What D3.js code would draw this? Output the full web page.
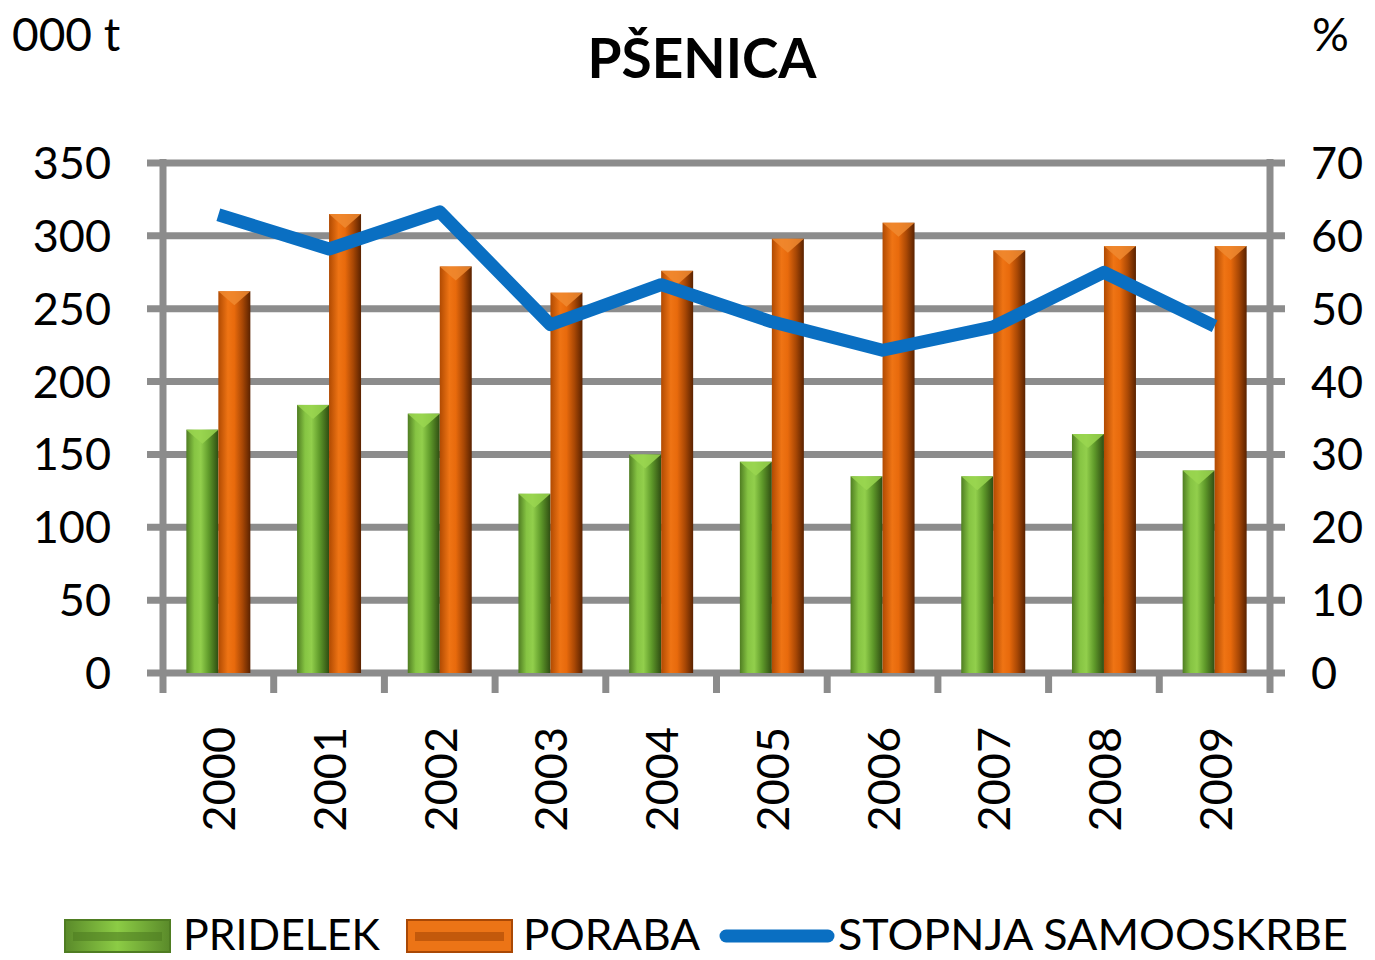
<!DOCTYPE html>
<html><head><meta charset="utf-8">
<script src="https://cdn.jsdelivr.net/npm/d3@7"></script>
<style>
html,body{margin:0;padding:0;background:#fff;}
text{font-family:Lato,"Open Sans",sans-serif;fill:#000;}
</style></head>
<body>
<svg id="c" width="1375" height="960"></svg>
<script>
const years = ["2000","2001","2002","2003","2004","2005","2006","2007","2008","2009"];
const pridelek = [167,184,178,123,150,145,135,135,164,139];
const poraba = [262,315,279,261,276,298,309,290,293,293];
const samooskrba = [62.9,58.2,63.3,47.8,53.3,48.2,44.3,47.5,55.0,47.6];
const leftTicks = [0,50,100,150,200,250,300,350];
const rightTicks = [0,10,20,30,40,50,60,70];
const seriesNames = ["PRIDELEK","PORABA","STOPNJA SAMOOSKRBE"];
const titleText = "PŠENICA";

const svg = d3.select("#c");
const L = 163, R = 1270, T = 163, B = 673;
const grid = "#8c8c8c";

const x0 = d3.scaleBand().domain(years).range([L, R]).padding(0);
const barW = 32;
const x1 = d3.scaleBand().domain(["p","c"]).range([0, barW*2]).padding(0);
const yL = d3.scaleLinear().domain([0,350]).range([B, T]);
const yR = d3.scaleLinear().domain([0,70]).range([B, T]);

const defs = svg.append("defs");
function grad(id, stops){
  const g = defs.append("linearGradient").attr("id", id).attr("x1","0").attr("x2","1").attr("y1","0").attr("y2","0");
  stops.forEach(s => g.append("stop").attr("offset", s[0]).attr("stop-color", s[1]));
}
grad("gG", [[0,"#4f7d22"],[0.25,"#86c443"],[0.45,"#92cf4c"],[0.7,"#5f9a2a"],[1,"#2f4d12"]]);
grad("gO", [[0,"#b04a02"],[0.3,"#ef7414"],[0.5,"#e86a0c"],[0.75,"#a94805"],[1,"#5a2200"]]);
grad("lgG", [[0,"#5a8a2a"],[0.5,"#8ccc45"],[1,"#5a8a2a"]]);

// gridlines
svg.append("g").selectAll("line").data(leftTicks).join("line")
  .attr("x1", 147).attr("x2", 1285)
  .attr("y1", d => yL(d)).attr("y2", d => yL(d))
  .attr("stroke", grid).attr("stroke-width", 7);
// vertical axes
svg.append("line").attr("x1", L).attr("x2", L).attr("y1", T-4).attr("y2", B+20).attr("stroke", grid).attr("stroke-width", 7);
svg.append("line").attr("x1", R).attr("x2", R).attr("y1", T-4).attr("y2", B+20).attr("stroke", grid).attr("stroke-width", 7);
// category ticks
svg.append("g").selectAll("line").data(years.slice(1)).join("line")
  .attr("x1", d => x0(d)).attr("x2", d => x0(d))
  .attr("y1", B).attr("y2", B+20)
  .attr("stroke", grid).attr("stroke-width", 7);

// bars
const gb = svg.append("g");
years.forEach((yr, i) => {
  const base = x0(yr) + x0.bandwidth()/2 - barW;
  [["p", pridelek[i], "url(#gG)", "#9ad650"],["c", poraba[i], "url(#gO)", "#f08a30"]].forEach(([k, v, fill, cap]) => {
    const bx = base + x1(k);
    gb.append("rect").attr("x", bx).attr("y", yL(v)).attr("width", x1.bandwidth()).attr("height", B - yL(v)).attr("fill", fill);
    gb.append("path").attr("d", `M${bx},${yL(v)} L${bx+x1.bandwidth()},${yL(v)} L${bx+x1.bandwidth()/2},${yL(v)+14} Z`)
      .attr("fill", cap).attr("opacity", 0.85);
  });
});

// line
const line = d3.line().x((d,i) => x0(years[i]) + x0.bandwidth()/2).y(d => yR(d));
svg.append("path").datum(samooskrba).attr("d", line)
  .attr("fill","none").attr("stroke","#0a6fc2").attr("stroke-width", 13).attr("stroke-linejoin","round");

// tick labels
svg.append("g").selectAll("text").data(leftTicks).join("text")
  .attr("x", 111).attr("y", d => yL(d) + 16).attr("text-anchor","end")
  .attr("font-size", 45).text(d => d);
svg.append("g").selectAll("text").data(rightTicks).join("text")
  .attr("x", 1311).attr("y", d => yR(d) + 16).attr("text-anchor","start")
  .attr("font-size", 45).text(d => d);
svg.append("g").selectAll("text").data(years).join("text")
  .attr("transform", d => `translate(${x0(d) + x0.bandwidth()/2 + 17},727) rotate(-90)`)
  .attr("text-anchor","end").attr("font-size", 45).text(d => d);

// titles
svg.append("text").attr("x", 702).attr("y", 78).attr("text-anchor","middle").attr("font-size", 55).attr("font-weight","bold").text(titleText);
svg.append("text").attr("x", 12).attr("y", 51).attr("font-size", 46).text("000 t");
svg.append("text").attr("x", 1312).attr("y", 51).attr("font-size", 46).text("%");

// legend
const lg = svg.append("g");
lg.append("rect").attr("x", 65).attr("y", 920).attr("width", 105).attr("height", 32).attr("fill", "url(#lgG)").attr("stroke","#4f7d22").attr("stroke-width",2);
lg.append("rect").attr("x", 73).attr("y", 932).attr("width", 89).attr("height", 9).attr("fill", "#4f7d22").attr("opacity",0.6);
lg.append("text").attr("x", 183).attr("y", 950).attr("font-size", 43).attr("textLength", 197).attr("lengthAdjust","spacingAndGlyphs").text(seriesNames[0]);
lg.append("rect").attr("x", 407).attr("y", 920).attr("width", 105).attr("height", 32).attr("fill", "#ec7416").attr("stroke","#a94805").attr("stroke-width",2);
lg.append("rect").attr("x", 415).attr("y", 932).attr("width", 89).attr("height", 9).attr("fill", "#a94805").attr("opacity",0.6);
lg.append("text").attr("x", 523).attr("y", 950).attr("font-size", 43).attr("textLength", 177).attr("lengthAdjust","spacingAndGlyphs").text(seriesNames[1]);
lg.append("line").attr("x1", 726).attr("x2", 828).attr("y1", 936).attr("y2", 936).attr("stroke","#0a6fc2").attr("stroke-width", 13).attr("stroke-linecap","round");
lg.append("text").attr("x", 838).attr("y", 950).attr("font-size", 43).attr("textLength", 510).attr("lengthAdjust","spacingAndGlyphs").text(seriesNames[2]);
</script>
</body></html>
